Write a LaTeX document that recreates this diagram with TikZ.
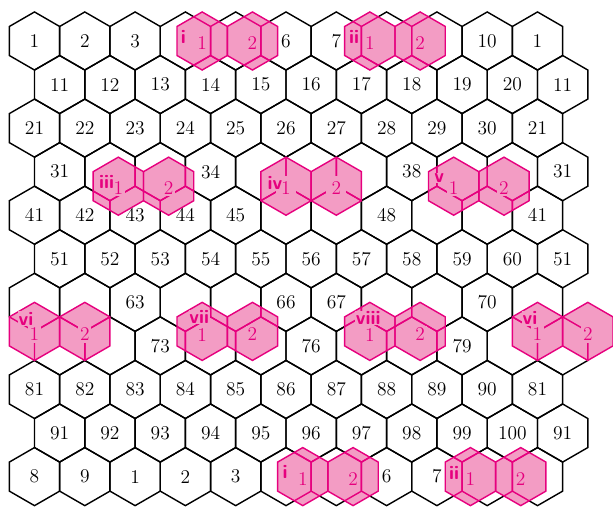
\documentclass[tikz,border=0pt]{standalone}
\definecolor{magline}{RGB}{230,0,126}
\definecolor{pinkfill}{RGB}{243,156,196}
\tikzset{
  gridline/.style={draw=black, line width=0.8pt},
  pinkline/.style={draw=magline, line width=0.8pt},
  numlab/.style={font=\fontsize{11}{13}\selectfont, inner sep=0pt},
  pinklab/.style={font=\fontsize{11}{13}\selectfont, text=magline, fill=pinkfill, inner sep=1pt},
  romlab/.style={font=\fontsize{11}{13}\selectfont\sffamily\bfseries, text=magline, fill=pinkfill, inner sep=0.4pt},
}
% one hexagon (pointy top) centred at (#2,#3), style #1
\newcommand\hexpath[3]{\path[#1] (#2+25.15,#3-14.52) -- (#2,#3-29.04) -- (#2-25.15,#3-14.52) -- (#2-25.15,#3+14.52) -- (#2,#3+29.04) -- (#2+25.15,#3+14.52) -- cycle;}
% the grid rows #2 in style #1
\newcommand\gridrows[2]{%
  \foreach \gr in {#2}{\foreach \gk in {0,...,10}{%
    \pgfmathsetmacro\cx{34.5+50.3*\gk+25.15*mod(\gr,2)}%
    \pgfmathsetmacro\cy{41+43.56*\gr}%
    \hexpath{#1}{\cx}{\cy}}}}
% pair of pink hexagons, first centred at (#1,#2), grid rows #3 redrawn inside
\newcommand\pinkpair[3]{%
  \begin{scope}
    \clip (#1+25.15,#2-14.52) -- (#1,#2-29.04) -- (#1-25.15,#2-14.52) -- (#1-25.15,#2+14.52) -- (#1,#2+29.04) -- (#1+25.15,#2+14.52) -- cycle
          (#1+75.45,#2-14.52) -- (#1+50.3,#2-29.04) -- (#1+25.15,#2-14.52) -- (#1+25.15,#2+14.52) -- (#1+50.3,#2+29.04) -- (#1+75.45,#2+14.52) -- cycle;
    \fill[pinkfill] (#1-40,#2-40) rectangle (#1+90,#2+40);
    \gridrows{pinkline}{#3}
  \end{scope}}
\newcommand\pinkoutline[2]{\hexpath{pinkline}{#1}{#2}\hexpath{pinkline}{#1+50.3}{#2}}
% number labels of one row
\newcommand\rowlabels[2]{%
  \foreach \gk/\lab in {#2}{%
    \pgfmathsetmacro\cx{34.5+50.3*\gk+25.15*mod(#1,2)}%
    \pgfmathsetmacro\cy{41+43.56*#1}%
    \node[numlab] (n-#1-\gk) at (\cx,\cy) {\lab};}}
\begin{document}
\begin{tikzpicture}[x=0.019881cm,y=-0.019881cm]
\useasboundingbox (0,0) rectangle (613,507);
% black grid
\gridrows{gridline}{0,...,10}
% pink tiles
\pinkpair{202.17}{41}{0,1}
\pinkpair{369.83}{41}{0,1}
\pinkpair{118.33}{186.2}{2,3,4,5}
\pinkpair{286}{186.2}{2,3,4,5}
\pinkpair{453.67}{186.2}{2,3,4,5}
\pinkpair{34.5}{331.4}{5,6,7,8}
\pinkpair{537.5}{331.4}{5,6,7,8}
\pinkpair{202.17}{331.4}{5,6,7,8}
\pinkpair{369.83}{331.4}{5,6,7,8}
\pinkpair{302.77}{476.6}{9,10}
\pinkpair{470.43}{476.6}{9,10}
\pinkoutline{202.17}{41}
\pinkoutline{369.83}{41}
\pinkoutline{118.33}{186.2}
\pinkoutline{286}{186.2}
\pinkoutline{453.67}{186.2}
\pinkoutline{34.5}{331.4}
\pinkoutline{537.5}{331.4}
\pinkoutline{202.17}{331.4}
\pinkoutline{369.83}{331.4}
\pinkoutline{302.77}{476.6}
\pinkoutline{470.43}{476.6}
% cell numbers
\rowlabels{0}{0/1,1/2,2/3,5/6,6/7,9/10,10/1}
\rowlabels{1}{0/11,1/12,2/13,3/14,4/15,5/16,6/17,7/18,8/19,9/20,10/11}
\rowlabels{2}{0/21,1/22,2/23,3/24,4/25,5/26,6/27,7/28,8/29,9/30,10/21}
\rowlabels{3}{0/31,3/34,7/38,10/31}
\rowlabels{4}{0/41,1/42,2/43,3/44,4/45,7/48,10/41}
\rowlabels{5}{0/51,1/52,2/53,3/54,4/55,5/56,6/57,7/58,8/59,9/60,10/51}
\rowlabels{6}{2/63,5/66,6/67,9/70}
\rowlabels{7}{2/73,5/76,8/79}
\rowlabels{8}{0/81,1/82,2/83,3/84,4/85,5/86,6/87,7/88,8/89,9/90,10/81}
\rowlabels{9}{0/91,1/92,2/93,3/94,4/95,5/96,6/97,7/98,8/99,9/100,10/91}
\rowlabels{10}{0/8,1/9,2/1,3/2,4/3,7/6,8/7}
% tile labels
\node[pinklab] (ia1) at (202.17,43) {1};
\node[pinklab] (ia2) at (252.47,43) {2};
\node[pinklab] (iia1) at (369.83,43) {1};
\node[pinklab] (iia2) at (420.13,43) {2};
\node[pinklab] (iii1) at (118.33,188.2) {1};
\node[pinklab] (iii2) at (168.63,188.2) {2};
\node[pinklab,inner sep=3pt] (iv1) at (286,188.2) {1};
\node[pinklab,inner sep=3pt] (iv2) at (336.3,188.2) {2};
\node[pinklab] (v1) at (453.67,188.2) {1};
\node[pinklab] (v2) at (503.97,188.2) {2};
\node[pinklab] (via1) at (34.5,334.4) {1};
\node[pinklab] (via2) at (84.8,334.4) {2};
\node[pinklab] (vib1) at (537.5,334.4) {1};
\node[pinklab] (vib2) at (587.8,334.4) {2};
\node[pinklab] (vii1) at (202.17,334.8) {1};
\node[pinklab] (vii2) at (252.47,334.4) {2};
\node[pinklab] (viii1) at (369.83,334.8) {1};
\node[pinklab] (viii2) at (420.13,334.4) {2};
\node[pinklab] (ib1) at (302.77,478.6) {1};
\node[pinklab] (ib2) at (353.07,478.6) {2};
\node[pinklab] (iib1) at (470.43,478.6) {1};
\node[pinklab] (iib2) at (520.73,478.6) {2};
% roman numerals
\node[romlab] (r-ia) at (183.3,36.7) {i};
\node[romlab] (r-iia) at (354,36.7) {ii};
\node[romlab] (r-iii) at (106.7,181.5) {iii};
\node[romlab] (r-iv) at (275,183.3) {iv};
\node[romlab] (r-v) at (439.3,178.3) {v};
\node[romlab] (r-via) at (26,318.7) {vi};
\node[romlab] (r-vib) at (530,318.3) {vi};
\node[romlab] (r-vii) at (199.3,316.8) {vii};
\node[romlab] (r-viii) at (368.3,317.8) {viii};
\node[romlab] (r-ib) at (285,471.7) {i};
\node[romlab] (r-iib) at (454,473.3) {ii};
\end{tikzpicture}
\end{document}
